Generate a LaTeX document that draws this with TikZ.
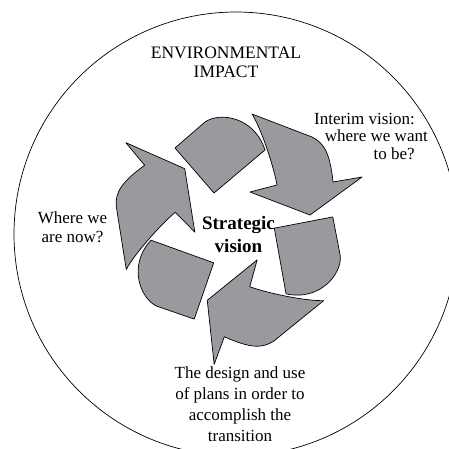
\documentclass[tikz,border=0pt]{standalone}
\usepackage{fontspec}
\setmainfont{Liberation Serif}
\usepackage{tikz}
\usetikzlibrary{positioning}

\definecolor{recgray}{RGB}{152,154,157}

\tikzset{
  piece/.style={fill=recgray, draw=black, line width=0.7pt, line join=round},
  ring/.style={draw=black, line width=0.7pt},
  lbl/.style={inner sep=0pt, align=center, font=\fontsize{17}{19}\selectfont}
}

\begin{document}
\begin{tikzpicture}[x=1pt,y=-1pt]
\useasboundingbox (0,0) rectangle (449,448);
\clip (0,0) rectangle (449,448);
\draw[ring] (236,234) circle[radius=222pt];
% the three bent arrows
\foreach \rot in {0,-120,-240}{
  \begin{scope}[shift={(234,228)},rotate=\rot]
    \draw[piece] (-59,-80) -- (-29,-106) .. controls (-15,-116) and (20,-112) .. (31,-78) -- (-20,-35) -- cycle;
    \draw[piece] (18,-114) -- (78,-91) .. controls (90,-85) and (96,-75) .. (99,-46) -- (128,-51) -- (76,-13) -- (16,-36) -- (43,-43) .. controls (40,-60) and (28,-98) .. (18,-114) -- cycle;
  \end{scope}
}
% labels
\node[lbl, anchor=north, font=\fontsize{17.5}{19}\selectfont] (env) at (226,46.3) {ENVIRONMENTAL\\IMPACT};
\node[lbl, align=right, anchor=north east, font=\fontsize{17}{17.5}\selectfont] (interim) at (415,112.7) {Interim vision:\\where we want\kern-13pt\\to be?};
\node[lbl, anchor=north] (now) at (72.5,211) {Where we\\are now?};
\node[lbl, anchor=north, font=\fontsize{19}{22.7}\selectfont\bfseries] (strat) at (238.5,216.3) {Strategic\\vision};
\node[lbl, anchor=north, font=\fontsize{17}{21}\selectfont] (design) at (240,366.7) {The design and use\\of plans in order to\\accomplish the\\transition};
\end{tikzpicture}
\end{document}
